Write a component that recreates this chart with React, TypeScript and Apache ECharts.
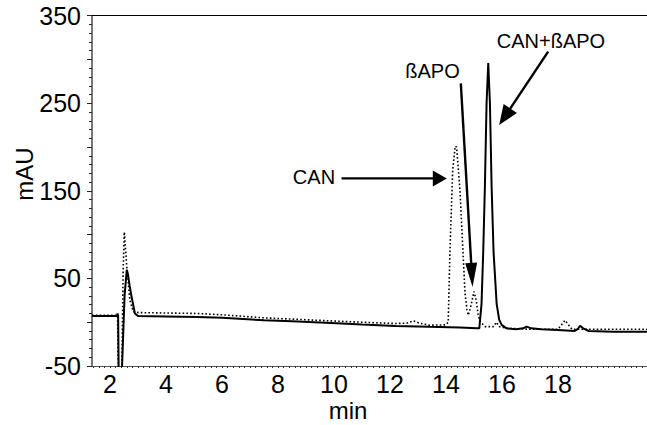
import React, { useEffect, useRef } from "react";
import * as echarts from "echarts";

// x axis (min) and y axis (mAU) ranges and labels
const xRange = [1.357, 21.18];
const xTickLabels = [2, 4, 6, 8, 10, 12, 14, 16, 18];
const yRange = [-50, 350];
const yTickStep = 50;
const yTickLabels = [-50, 50, 150, 250, 350];

// Solid trace
const solidTimes = [
  1.36, 2.0, 2.25, 2.27, 2.29, 2.31, 2.33, 2.42, 2.52, 2.6, 2.64, 2.7, 2.77, 2.89, 3.0,
  4.0, 5.1, 6.0, 7.5, 8.5, 9.9, 11.0, 12.2, 13.4, 14.5, 15.1, 15.19, 15.27, 15.33, 15.39,
  15.45, 15.51, 15.57, 15.63, 15.7, 15.81, 15.9, 15.99, 16.16, 16.5, 16.75, 16.88, 17.05,
  17.4, 18.0, 18.6, 18.7, 18.79, 18.9, 19.1, 20.0, 21.18,
];
const solidValues = [
  7, 7, 7, 10, 8, -60, -60, -60, 30, 60, 55, 42, 29, 10, 7,
  6.5, 6, 5, 2.3, 1, -0.8, -2.5, -4.2, -5.3, -6, -7, -7, 21, 80, 155,
  250, 296, 250, 155, 80, 21, 3, -3, -7, -8, -7, -5, -7,
  -8, -9, -10, -8, -4, -7, -10, -11, -11,
];

// Dotted trace
const dottedTimes = [
  1.36, 2.0, 2.27, 2.3, 2.42, 2.47, 2.51, 2.6, 2.71, 2.83, 3.0,
  5.1, 6.0, 7.5, 9.9, 11.0, 12.2, 12.6, 12.83, 13.05, 13.4, 14.0, 14.08, 14.14, 14.24,
  14.33, 14.38, 14.5, 14.6, 14.68, 14.75, 14.8, 14.9, 15.0, 15.08, 15.15, 15.21, 15.4,
  15.7, 15.8, 15.9, 16.2, 17.0, 18.0, 18.15, 18.25, 18.35, 18.5, 19.0, 21.18,
];
const dottedValues = [
  8, 8, 8, -60, -60, 60, 103, 63, 25, 12, 11,
  10, 8.5, 5, 1.5, 0, -1.5, -1, 1.5, -1, -3.4, -3, 0, 79, 174,
  201, 200, 150, 85, 33, 14, 8, 20, 35, 25, 8, 1, -5,
  -5, 0, -5, -7, -8, -8, -2, 2, -2, -8, -8, -8,
];

// Annotations (data coordinates)
const annotationTexts = ["CAN", "ßAPO", "CAN+ßAPO"];
const annotationTextAt = [
  [10.04, 165.4],
  [13.52, 287],
  [17.75, 321],
];
const annotationAlign = ["right", "center", "center"];
const arrowStarts = [
  [10.27, 164.2],
  [14.53, 272.8],
  [17.65, 308.9],
];
const arrowTips = [
  [14.03, 164.2],
  [14.95, 40.3],
  [15.9, 225.1],
];
const arrowHeadLen = [14, 24, 20];
const arrowHeadHalf = [8, 6, 8];

const FONT = "Liberation Sans, Arial, sans-serif";

function zip(a: number[], b: number[]) {
  return a.map((t, i) => [t, b[i]]);
}

export default function App() {
  const ref = useRef<HTMLDivElement>(null);
  useEffect(() => {
    if (!ref.current) return;
    const chart = echarts.init(ref.current, undefined, { renderer: "svg" });
    const minorX: number[] = [];
    for (let v = 1.4; v <= 21.1; v += 0.2) minorX.push(Math.round(v * 10) / 10);

    chart.setOption({
      animation: false,
      backgroundColor: "#ffffff",
      grid: { left: 92, right: 0, top: 15.7, bottom: 59, containLabel: false },
      xAxis: [
        {
          type: "value",
          min: xRange[0],
          max: xRange[1],
          position: "bottom",
          axisLine: { show: true, onZero: false, lineStyle: { color: "#555", width: 1 } },
          axisTick: {
            show: true,
            customValues: minorX,
            length: 2,
            lineStyle: { color: "#333", width: 1 },
          },
          axisLabel: {
            customValues: xTickLabels,
            color: "#000",
            fontSize: 25,
            fontFamily: FONT,
            margin: 5,
          },
          splitLine: { show: false },
        },
        {
          type: "value",
          min: xRange[0],
          max: xRange[1],
          position: "top",
          axisLine: { show: true, onZero: false, lineStyle: { color: "#000", width: 1 } },
          axisTick: { show: false },
          axisLabel: { show: false },
          splitLine: { show: false },
        },
      ],
      yAxis: {
        type: "value",
        min: yRange[0],
        max: yRange[1],
        interval: yTickStep,
        axisLine: { show: true, lineStyle: { color: "#777", width: 2 } },
        axisTick: { show: true, length: 5, lineStyle: { color: "#222", width: 1 } },
        minorTick: { show: true, splitNumber: 5, length: 3, lineStyle: { color: "#222", width: 1 } },
        axisLabel: {
          formatter: (v: number) => (yTickLabels.indexOf(v) >= 0 ? String(v) : ""),
          color: "#000",
          fontSize: 25,
          fontFamily: FONT,
          margin: 11,
        },
        splitLine: { show: false },
        minorSplitLine: { show: false },
      },
      series: [
        {
          type: "line",
          data: zip(dottedTimes, dottedValues),
          showSymbol: false,
          clip: true,
          lineStyle: { color: "#000", width: 1.6, type: [1.6, 2.2] },
          z: 2,
        },
        {
          type: "line",
          data: zip(solidTimes, solidValues),
          showSymbol: false,
          clip: true,
          lineStyle: { color: "#000", width: 2 },
          z: 3,
        },
      ],
    });

    const graphics: any[] = [];
    annotationTexts.forEach((txt, i) => {
      const p = chart.convertToPixel({ gridIndex: 0 }, annotationTextAt[i]) as number[];
      graphics.push({
        type: "text",
        x: p[0],
        y: p[1],
        style: {
          text: txt,
          font: `20px ${FONT}`,
          fill: "#000",
          align: annotationAlign[i],
          verticalAlign: "middle",
        },
        z: 10,
      });
      const s = chart.convertToPixel({ gridIndex: 0 }, arrowStarts[i]) as number[];
      const t = chart.convertToPixel({ gridIndex: 0 }, arrowTips[i]) as number[];
      const dx = t[0] - s[0];
      const dy = t[1] - s[1];
      const len = Math.sqrt(dx * dx + dy * dy);
      const ux = dx / len;
      const uy = dy / len;
      const L = arrowHeadLen[i];
      const W = arrowHeadHalf[i];
      const bx = t[0] - ux * L;
      const by = t[1] - uy * L;
      graphics.push({
        type: "line",
        shape: { x1: s[0], y1: s[1], x2: bx + ux * 2, y2: by + uy * 2 },
        style: { stroke: "#000", lineWidth: 2.4 },
        z: 10,
      });
      graphics.push({
        type: "polygon",
        shape: {
          points: [
            [t[0], t[1]],
            [bx - uy * W, by + ux * W],
            [bx + uy * W, by - ux * W],
          ],
        },
        style: { fill: "#000" },
        z: 10,
      });
    });
    graphics.push({
      type: "text",
      x: 24,
      y: 174,
      rotation: Math.PI / 2,
      style: {
        text: "mAU",
        font: `24px ${FONT}`,
        fill: "#000",
        align: "center",
        verticalAlign: "middle",
      },
    });
    graphics.push({
      type: "text",
      x: 348,
      y: 410,
      style: {
        text: "min",
        font: `24px ${FONT}`,
        fill: "#000",
        align: "center",
        verticalAlign: "middle",
      },
    });
    chart.setOption({ graphic: graphics });

    return () => chart.dispose();
  }, []);
  return (
    <div
      ref={ref}
      style={{ position: "fixed", left: 0, top: 0, width: 647, height: 425 }}
    />
  );
}
